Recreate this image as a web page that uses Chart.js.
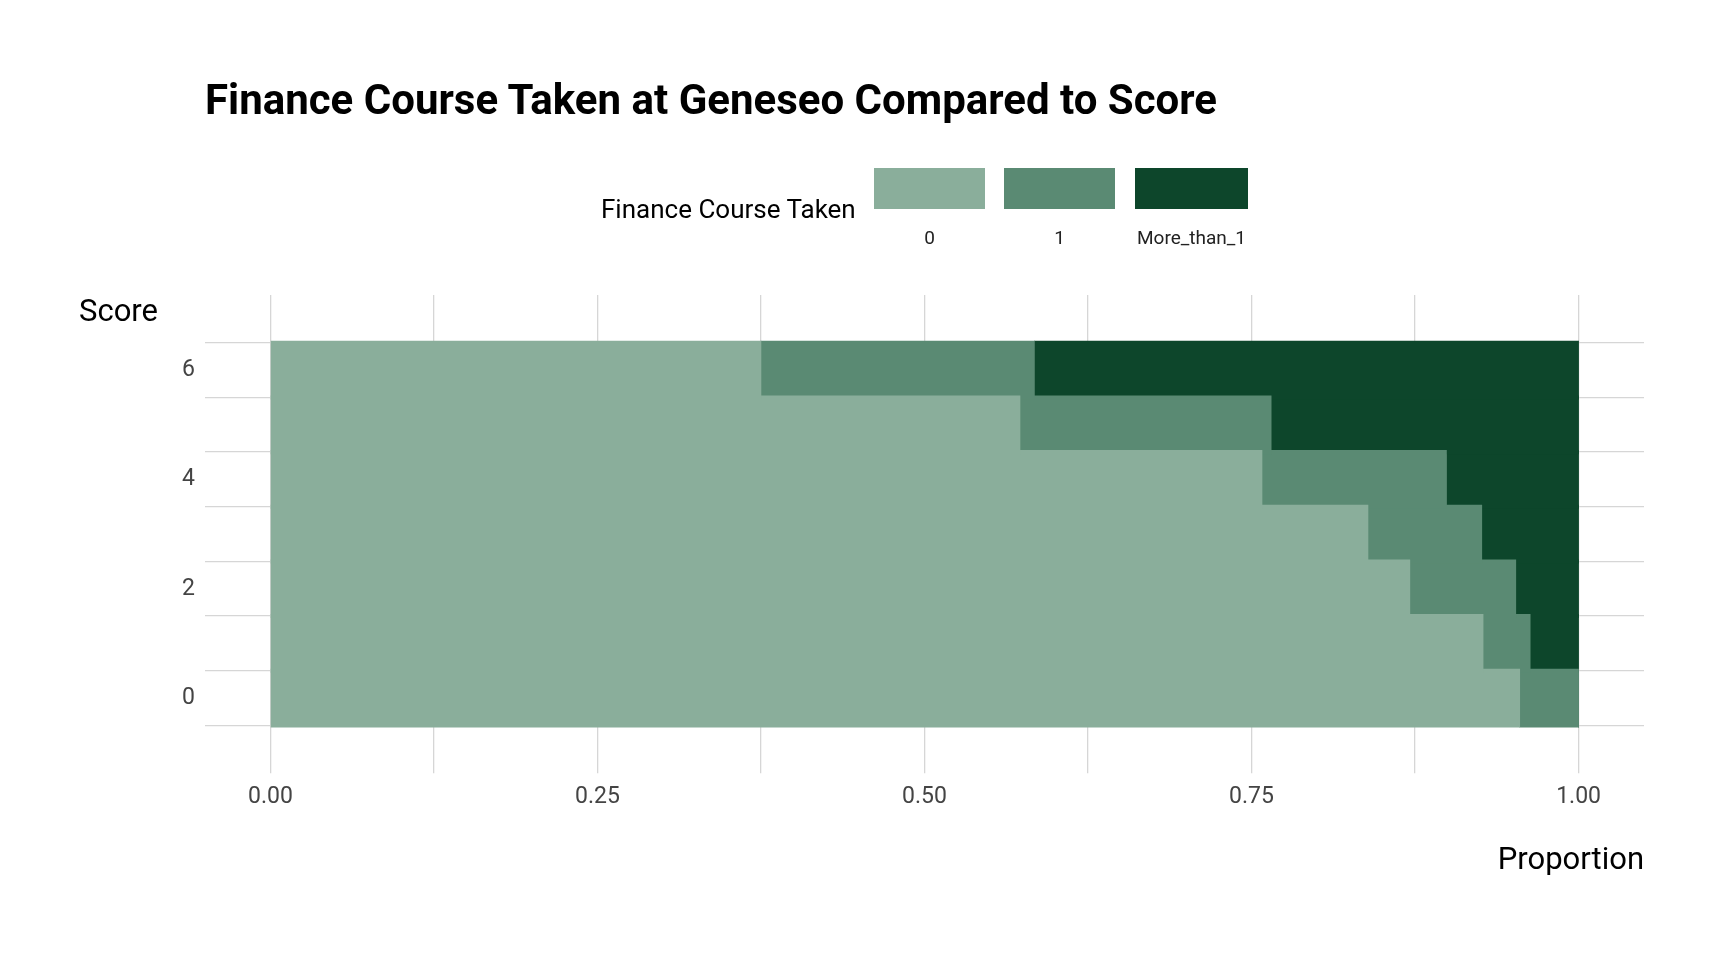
<!DOCTYPE html>
<html>
<head>
<meta charset="utf-8">
<script src="https://cdn.jsdelivr.net/npm/chart.js@4"></script>
<style>
  body { margin: 0; background: #fff; font-family: "Liberation Sans Narrow", "Roboto", sans-serif; }
  #wrap { position: relative; width: 1728px; height: 960px; }
  canvas { position: absolute; left: 0; top: 0; }
  .txt { position: absolute; color: #000; white-space: nowrap; }
  .box { position: absolute; top: 168px; height: 41px; }
  .lab { position: absolute; top: 226px; font-size: 19px; color: #222; text-align: center; }
</style>
</head>
<body>
<div id="wrap">
  <canvas id="c" width="1728" height="960"></canvas>
  <div class="txt" style="left:205px;top:75px;font-size:42px;font-weight:bold;">Finance Course Taken at Geneseo Compared to Score</div>
  <div class="txt" style="left:601px;top:194px;font-size:26px;">Finance Course Taken</div>
  <div class="box" style="left:874px;width:111px;background:#8aae9b"></div>
  <div class="box" style="left:1004px;width:111px;background:#5a8a73"></div>
  <div class="box" style="left:1135px;width:113px;background:#0d462b"></div>
  <div class="lab" style="left:874px;width:111px;">0</div>
  <div class="lab" style="left:1004px;width:111px;">1</div>
  <div class="lab" style="left:1125px;width:133px;">More_than_1</div>
  <div class="txt" style="left:79px;top:292px;font-size:31px;">Score</div>
</div>
<script>
// Scores on the y axis, proportions per finance-course group
const scores = [0, 1, 2, 3, 4, 5, 6];
const groups = ['0', '1', 'More_than_1'];
const propNone = [0.955, 0.927, 0.871, 0.839, 0.758, 0.573, 0.375];
const propOne = [0.045, 0.036, 0.081, 0.087, 0.141, 0.192, 0.209];
const propMore = [0.000, 0.037, 0.048, 0.074, 0.101, 0.235, 0.416];
const xTicks = [0, 0.125, 0.25, 0.375, 0.5, 0.625, 0.75, 0.875, 1];

const colors = ['#8aae9b', '#5a8a73', '#0d462b'];
const series = [propNone, propOne, propMore];
const font = { family: '"Liberation Sans Narrow", Roboto, sans-serif', size: 23 };

new Chart(document.getElementById('c'), {
    type: 'bar',
    data: {
        datasets: series.map((vals, i) => ({
            label: groups[i],
            data: scores.map((s, j) => ({ x: vals[j], y: s })),
            backgroundColor: colors[i],
            borderWidth: 0,
            barThickness: 58,
            stack: 'all'
        }))
    },
    options: {
        indexAxis: 'y',
        responsive: false,
        animation: false,
        layout: { padding: { top: 295, right: 84, left: 0, bottom: 78 } },
        plugins: { legend: { display: false }, tooltip: { enabled: false } },
        scales: {
            x: {
                type: 'linear',
                stacked: true,
                min: -0.05,
                max: 1.05,
                afterBuildTicks: (s) => { s.ticks = xTicks.map(v => ({ value: v })); },
                border: { display: false },
                grid: { color: '#d6d6d6', lineWidth: 1.3, tickLength: 0 },
                ticks: {
                    color: '#444',
                    font: font,
                    padding: 10,
                    maxRotation: 0,
                    autoSkip: false,
                    callback: (v) => (v * 100) % 25 === 0 ? v.toFixed(2) : ''
                },
                title: {
                    display: true,
                    text: 'Proportion',
                    align: 'end',
                    color: '#000',
                    font: { family: font.family, size: 31 },
                    padding: { top: 22, bottom: 2 }
                }
            },
            y: {
                type: 'linear',
                min: -0.75,
                max: 6.75,
                afterBuildTicks: (s) => { s.ticks = scores.map(v => ({ value: v })); },
                afterFit: (s) => { s.width = 205; },
                border: { display: false },
                grid: { color: '#d6d6d6', lineWidth: 1.3, tickLength: 0 },
                ticks: {
                    color: '#444',
                    font: font,
                    padding: 10,
                    autoSkip: false,
                    callback: (v) => v % 2 === 0 ? String(v) : ''
                }
            }
        }
    }
});
</script>
</body>
</html>
